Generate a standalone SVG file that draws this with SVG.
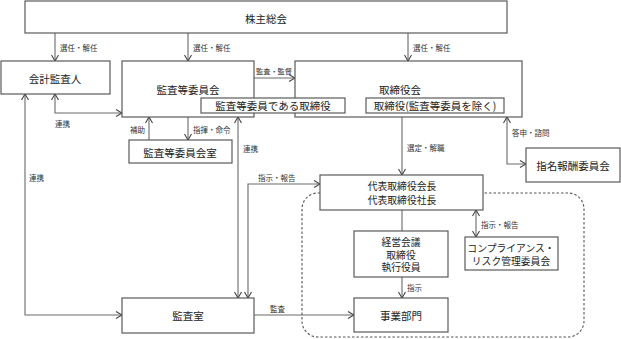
<svg xmlns="http://www.w3.org/2000/svg" width="621" height="339" viewBox="0 0 621 339">
<style>
.box{fill:#fff;stroke:#5a5a5a;stroke-width:1.2}
.ln{fill:none;stroke:#6a6a6a;stroke-width:1.1}
.t{font-family:"Noto Sans CJK JP","Noto Sans CJK SC",sans-serif;font-size:10.5px;fill:#222;text-anchor:middle;dominant-baseline:central}
.m{font-size:9.8px}
.s{font-family:"Noto Sans CJK JP","Noto Sans CJK SC",sans-serif;font-size:7.5px;fill:#333;dominant-baseline:central}
.dash{fill:none;stroke:#555;stroke-width:1.1;stroke-dasharray:2.5,2}
</style>
<defs>
<marker id="a" viewBox="0 0 8 8" refX="7" refY="4" markerWidth="8" markerHeight="8" markerUnits="userSpaceOnUse" orient="auto-start-reverse">
<path d="M1,0.5 L7,4 L1,7.5" fill="none" stroke="#444" stroke-width="1.1"/>
</marker>
</defs>
<rect class="dash" x="302" y="193" width="282" height="144" rx="16" ry="16"/>
<g id="connectors">
<path class="ln" d="M55,33 V61" marker-end="url(#a)"/>
<text class="s" x="60" y="47">選任・解任</text>
<path class="ln" d="M188,33 V61" marker-end="url(#a)"/>
<text class="s" x="193" y="47">選任・解任</text>
<path class="ln" d="M408,33 V61" marker-end="url(#a)"/>
<text class="s" x="413" y="47">選任・解任</text>
<path class="ln" d="M254,78 H295" marker-end="url(#a)"/>
<text class="s" x="256" y="71" style="font-size:7px" textLength="36" lengthAdjust="spacingAndGlyphs">監査・監督</text>
<path class="ln" d="M55,94 V113 H122" marker-start="url(#a)" marker-end="url(#a)"/>
<text class="s" x="55" y="123">連携</text>
<path class="ln" d="M149,140 V117" marker-end="url(#a)"/>
<text class="s" x="130" y="129">補助</text>
<path class="ln" d="M188,117 V140" marker-end="url(#a)"/>
<text class="s" x="193" y="129">指揮・命令</text>
<path class="ln" d="M238,117 V298" marker-start="url(#a)" marker-end="url(#a)"/>
<text class="s" x="243" y="148">連携</text>
<path class="ln" d="M25,94 V315 H122" marker-start="url(#a)" marker-end="url(#a)"/>
<text class="s" x="29" y="177">連携</text>
<path class="ln" d="M248,298 V184 H320" marker-start="url(#a)" marker-end="url(#a)"/>
<text class="s" x="258" y="177">指示・報告</text>
<path class="ln" d="M254,315 H354" marker-end="url(#a)"/>
<text class="s" x="270" y="308">監査</text>
<path class="ln" d="M402,117 V175" marker-end="url(#a)"/>
<text class="s" x="407" y="147">選定・解職</text>
<path class="ln" d="M402,210 V231"/>
<path class="ln" d="M402,277 V298" marker-end="url(#a)"/>
<text class="s" x="407" y="287">指示</text>
<path class="ln" d="M476,210 V237" marker-start="url(#a)" marker-end="url(#a)"/>
<text class="s" x="481" y="224">指示・報告</text>
<path class="ln" d="M507,117 V164 H526" marker-start="url(#a)" marker-end="url(#a)"/>
<text class="s" x="512" y="132">答申・諮問</text>
</g>
<g id="kabunushi"><rect class="box" x="25" y="1" width="482" height="32"/><text class="t" x="266" y="18">株主総会</text></g>
<g id="kaikei"><rect class="box" x="1" y="61" width="109" height="33"/><text class="t" x="55" y="78">会計監査人</text></g>
<g id="kansatoiinkai"><rect class="box" x="122" y="61" width="132" height="56"/><text class="t" x="188" y="89">監査等委員会</text></g>
<g id="torishimariyakukai"><rect class="box" x="295" y="61" width="227" height="56"/><text class="t" x="400" y="89">取締役会</text></g>
<g id="kansatoiin-torishimariyaku"><rect class="box" x="201" y="98" width="144" height="15"/><text class="t" x="273" y="105.5">監査等委員である取締役</text></g>
<g id="torishimariyaku-jogai"><rect class="box" x="366" y="98" width="138" height="15"/><text class="t" x="435" y="105.5">取締役(監査等委員を除く)</text></g>
<g id="kansatoiinkaishitsu"><rect class="box" x="129" y="140" width="103" height="23"/><text class="t" x="180" y="152">監査等委員会室</text></g>
<g id="shimei"><rect class="box" x="526" y="148" width="94" height="34"/><text class="t" x="573" y="165">指名報酬委員会</text></g>
<g id="daihyo"><rect class="box" x="320" y="175" width="163" height="35"/><text class="t m" x="402" y="186"><tspan x="402" y="186">代表取締役会長</tspan><tspan x="402" y="200">代表取締役社長</tspan></text></g>
<g id="keiei"><rect class="box" x="354" y="231" width="94" height="46"/><text class="t m" x="401" y="242"><tspan x="401" y="242">経営会議</tspan><tspan x="401" y="254.5">取締役</tspan><tspan x="401" y="267">執行役員</tspan></text></g>
<g id="compliance"><rect class="box" x="465" y="237" width="93" height="33"/><text class="t m" x="511" y="248"><tspan x="511" y="248">コンプライアンス・</tspan><tspan x="511" y="261">リスク管理委員会</tspan></text></g>
<g id="kansashitsu"><rect class="box" x="122" y="298" width="132" height="35"/><text class="t" x="188" y="315">監査室</text></g>
<g id="jigyobumon"><rect class="box" x="354" y="298" width="94" height="34"/><text class="t" x="401" y="315">事業部門</text></g>
</svg>
